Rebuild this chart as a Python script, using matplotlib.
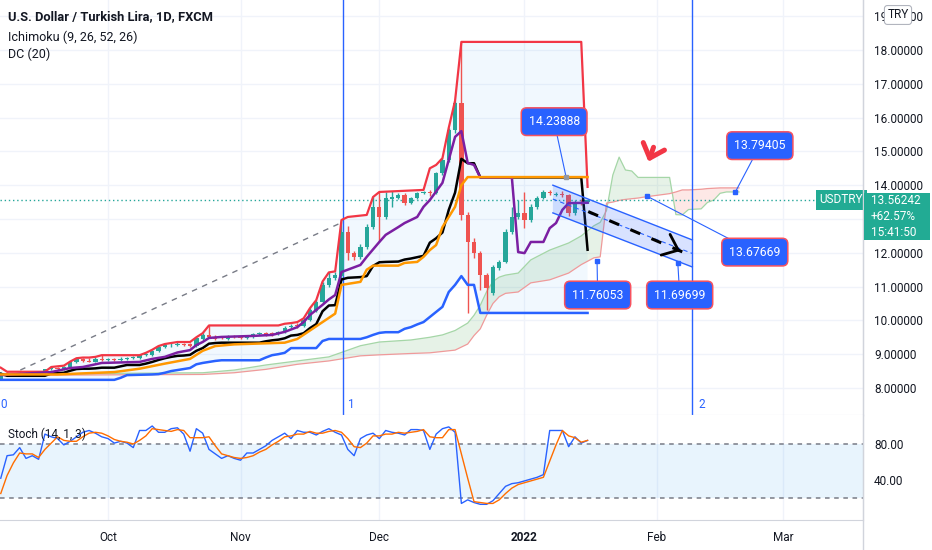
import numpy as np
import matplotlib
matplotlib.use("Agg")
import matplotlib.pyplot as plt
from matplotlib.patches import Polygon, Rectangle, ArrowStyle
from matplotlib.lines import Line2D

plt.rcParams['font.family'] = ['Roboto', 'DejaVu Sans']

# ---------------- data (bar index 0 = 1 Oct 2021, trading days) ----------------
first_bar = -17
opens = [8.26, 8.44, 8.40, 8.42, 8.40, 8.43, 8.41, 8.44, 8.55, 8.58, 8.55, 8.62, 8.76, 8.85, 8.81, 8.78, 8.86,
         8.84, 8.85, 8.82, 8.86, 8.90, 8.90, 8.97, 8.99, 9.10, 9.20,
         9.26, 9.28, 9.31, 9.29, 9.25, 9.45, 9.56, 9.52, 9.49, 9.46,
         9.52, 9.50, 9.48, 9.52, 9.60, 9.63, 9.62, 9.59, 9.66, 9.80,
         9.86, 9.84, 10.02, 10.28, 10.55, 11.05, 11.25, 11.30, 12.62, 11.99,
         11.88, 12.17, 12.76, 13.36, 13.06, 13.60, 13.62, 13.71, 13.47, 13.62,
         13.77, 13.80, 13.77, 14.36, 14.75, 15.63, 16.43, 13.12, 12.32, 11.99,
         11.34, 10.81, 11.55, 11.73, 12.62, 13.06, 13.18, 12.97, 13.36, 13.62,
         13.78, 13.72, 13.74, 13.71, 13.18, 13.47, 13.50]
highs = [8.46, 8.47, 8.45, 8.46, 8.46, 8.46, 8.47, 8.57, 8.62, 8.63, 8.65, 8.78, 8.88, 8.90, 8.88, 8.92, 8.97,
         8.90, 8.90, 8.91, 8.93, 8.96, 9.00, 9.04, 9.13, 9.24, 9.30,
         9.33, 9.36, 9.34, 9.33, 9.50, 9.62, 9.85, 9.56, 9.53, 9.57,
         9.56, 9.54, 9.55, 9.64, 9.66, 9.66, 9.65, 9.70, 9.82, 9.90,
         9.92, 10.06, 10.36, 10.60, 11.15, 11.42, 11.42, 12.97, 12.80, 12.05,
         12.25, 12.86, 13.65, 13.80, 13.80, 13.82, 13.78, 13.76, 13.66, 13.80,
         13.83, 13.86, 14.40, 14.80, 15.70, 16.50, 18.24, 13.20, 12.45, 12.05,
         11.40, 11.65, 11.80, 12.70, 13.36, 13.56, 13.80, 13.45, 13.68, 13.86,
         13.86, 13.80, 13.82, 13.75, 13.55, 13.58, 13.60]
lows = [8.24, 8.36, 8.37, 8.37, 8.38, 8.38, 8.39, 8.42, 8.52, 8.52, 8.53, 8.60, 8.74, 8.78, 8.76, 8.76, 8.80,
        8.80, 8.79, 8.80, 8.83, 8.86, 8.87, 8.94, 8.96, 9.07, 9.17,
        9.22, 9.24, 9.24, 9.22, 9.22, 9.42, 9.47, 9.42, 9.44, 9.43,
        9.47, 9.44, 9.45, 9.49, 9.57, 9.55, 9.54, 9.56, 9.63, 9.76,
        9.78, 9.80, 9.98, 10.24, 10.50, 11.00, 11.18, 11.10, 11.80, 11.80,
        11.82, 12.10, 12.70, 12.32, 13.00, 13.36, 13.58, 13.40, 13.44, 13.58,
        13.74, 13.68, 13.74, 14.30, 14.70, 15.55, 12.97, 10.22, 11.85, 10.90,
        10.31, 10.75, 11.50, 11.70, 12.55, 13.00, 12.73, 12.90, 13.30, 13.58,
        13.70, 13.68, 13.64, 13.10, 13.12, 13.40, 13.46]
closes = [8.44, 8.40, 8.42, 8.40, 8.43, 8.41, 8.44, 8.55, 8.58, 8.55, 8.62, 8.76, 8.85, 8.80, 8.78, 8.86, 8.84,
          8.85, 8.82, 8.86, 8.90, 8.90, 8.97, 8.99, 9.10, 9.20, 9.26,
          9.28, 9.31, 9.28, 9.25, 9.48, 9.58, 9.50, 9.46, 9.47, 9.53,
          9.50, 9.47, 9.51, 9.60, 9.61, 9.58, 9.57, 9.66, 9.78, 9.84,
          9.82, 10.02, 10.30, 10.55, 11.05, 11.25, 11.35, 12.62, 12.00, 11.88,
          12.17, 12.76, 13.36, 13.06, 13.62, 13.64, 13.71, 13.47, 13.62, 13.77,
          13.80, 13.77, 14.36, 14.75, 15.63, 16.43, 13.12, 12.32, 11.99, 11.34,
          10.96, 11.58, 11.73, 12.62, 13.06, 13.18, 12.97, 13.36, 13.62, 13.80,
          13.76, 13.75, 13.70, 13.18, 13.47, 13.44, 13.56]

# Donchian channel (20)
dc_upper_x = [-17, -16, -10, -9, -8, -7, -6, -5, -4, -3, -2, -1, 5, 6, 7, 8, 9, 10, 11, 13, 14, 15, 16, 27,
              28, 29, 30, 31, 32, 33, 34, 35, 36, 37, 38, 41, 42, 43, 50, 51, 52, 53, 54, 55, 56, 75, 76]
dc_upper_y = [8.60, 8.48, 8.48, 8.62, 8.64, 8.66, 8.78, 8.88, 8.90, 8.90, 8.92, 8.97, 8.97, 9.04, 9.13, 9.24,
              9.30, 9.33, 9.36, 9.36, 9.50, 9.62, 9.85, 9.85, 9.90, 9.92, 9.95, 10.06, 10.36, 10.60, 11.15,
              11.42, 11.45, 12.97, 13.06, 13.12, 13.65, 13.80, 13.86, 14.50, 14.60, 14.80, 15.70, 16.50,
              18.24, 18.24, 13.95]
dc_lower_x = [-17, 1, 2, 3, 7, 8, 9, 10, 11, 12, 13, 14, 15, 16, 17, 18, 24, 25, 26, 27, 28, 29, 33, 34, 35,
              40, 41, 42, 43, 44, 46, 47, 48, 49, 50, 51, 52, 53, 54, 55, 56, 57, 58, 59, 76]
dc_lower_y = [8.24, 8.24, 8.30, 8.38, 8.40, 8.41, 8.45, 8.50, 8.53, 8.56, 8.59, 8.70, 8.74, 8.77, 8.80, 8.82,
              8.82, 8.90, 8.97, 9.00, 9.04, 9.18, 9.18, 9.39, 9.45, 9.45, 9.50, 9.57, 9.63, 9.65, 9.65,
              9.75, 9.80, 9.88, 9.95, 10.10, 10.25, 10.40, 10.84, 11.05, 11.31, 11.05, 11.05, 10.22, 10.22]
dc_basis_x = [-17, -16, -10, -9, -8, -7, -6, -5, -4, -3, -2, -1, 1, 2, 3, 5, 6, 7, 8, 9, 10, 11, 12, 13,
              14, 15, 16, 17, 18, 24, 25, 26, 27, 28, 29, 30, 31, 32, 33, 34, 35, 36, 37, 38, 40, 41, 42,
              43, 44, 46, 47, 48, 49, 50, 51, 52, 53, 54, 55, 56, 57, 58, 59, 75, 76]
dc_basis_y = [8.42, 8.36, 8.36, 8.43, 8.44, 8.45, 8.51, 8.56, 8.57, 8.57, 8.58, 8.60, 8.60, 8.64, 8.68,
              8.68, 8.72, 8.77, 8.83, 8.88, 8.92, 8.95, 8.96, 8.98, 9.10, 9.18, 9.31, 9.33, 9.34, 9.34,
              9.38, 9.41, 9.43, 9.47, 9.55, 9.57, 9.62, 9.77, 9.89, 10.27, 10.44, 10.45, 11.21, 11.26,
              11.28, 11.31, 11.61, 11.72, 11.73, 11.74, 11.80, 11.83, 11.87, 11.91, 12.30, 12.43, 12.60,
              13.27, 13.78, 14.78, 14.65, 14.65, 14.23, 14.23, 12.09]

# Ichimoku (9, 26, 52, 26)
tenkan_x = [-17, -9, -6, -4, -1, 5, 7, 9, 11, 13, 14, 15, 16, 18, 23, 26, 28, 30, 31, 32, 33, 34, 35, 36,
            37, 40, 41, 43, 44, 46, 47, 49, 50, 51, 53, 54, 55, 56, 57, 58, 59, 64, 65, 66, 67, 69, 70,
            71, 72, 73, 76]
tenkan_y = [8.38, 8.47, 8.59, 8.62, 8.74, 8.77, 8.86, 8.92, 9.05, 9.12, 9.27, 9.36, 9.48, 9.51, 9.54,
            9.57, 9.66, 9.80, 9.95, 10.16, 10.31, 10.46, 10.62, 10.75, 11.43, 11.64, 11.88, 12.32, 12.53,
            12.76, 12.88, 13.06, 13.36, 13.56, 14.07, 14.75, 15.43, 15.60, 14.66, 14.60, 14.23, 14.23,
            12.02, 11.99, 12.32, 12.32, 12.73, 12.88, 13.27, 13.47, 13.48]
kijun_x = [-17, -8, 1, 5, 9, 13, 15, 17, 20, 28, 30, 32, 34, 36, 37, 40, 41, 42, 46, 47, 49, 50, 51, 52,
           53, 55, 56, 57, 76]
kijun_y = [8.40, 8.40, 8.47, 8.57, 8.72, 8.86, 9.10, 9.24, 9.29, 9.34, 9.45, 9.70, 9.95, 10.20, 11.05,
           11.14, 11.50, 11.62, 11.62, 11.70, 11.73, 11.88, 12.08, 12.23, 12.76, 13.36, 14.00, 14.24, 14.24]
span_x = [-17, -9, 15, 20, 25, 30, 35, 40, 43, 48, 51, 53, 55, 57, 58, 59, 60, 61, 62, 63, 65, 67, 70, 73,
          75, 76, 77, 78, 79, 80, 81, 82, 83, 84, 85, 89, 90, 91, 92, 94, 95, 96, 97, 98, 100]
span_a = [8.42, 8.42, 8.45, 8.53, 8.68, 8.80, 8.92, 9.25, 9.36, 9.42, 9.50, 9.57, 9.70, 9.92, 10.15, 10.45,
          10.85, 11.15, 11.28, 11.34, 11.40, 11.79, 12.08, 12.29, 12.50, 12.65, 12.80, 12.90, 13.25, 14.30,
          14.83, 14.45, 14.42, 14.23, 14.23, 14.23, 13.13, 13.12, 13.28, 13.30, 13.49, 13.56, 13.76, 13.80,
          13.80]
span_b = [8.38, 8.38, 8.40, 8.45, 8.55, 8.70, 8.80, 8.95, 8.98, 9.02, 9.04, 9.08, 9.12, 9.30, 9.55, 9.75,
          10.15, 10.50, 10.70, 10.80, 10.84, 11.11, 11.20, 11.40, 11.65, 11.75, 11.85, 11.88, 13.47, 13.50,
          13.55, 13.58, 13.60, 13.62, 13.65, 13.75, 13.80, 13.86, 13.86, 13.88, 13.90, 13.91, 13.92, 13.92,
          13.92]

# Stochastic (14, 1, 3)
stoch_k = [42, 67, 68, 76, 64, 67, 63, 91, 88, 86, 79, 83, 88, 93, 95, 92, 88,
           86, 81, 83, 81, 76, 95, 95, 100, 93, 93,
           97, 98, 91, 72, 97, 92, 74, 69, 64, 67,
           64, 62, 70, 70, 74, 78, 84, 88, 92, 86,
           95, 93, 93, 90, 94, 97, 93, 90, 74, 67,
           86, 90, 92, 86, 95, 93, 92, 90, 96, 96,
           95, 74, 91, 97, 99, 93, 14, 18, 15, 13,
           13, 17, 25, 33, 36, 37, 39, 41, 43, 46,
           95, 95, 95, 77, 88, 81, 84]
stoch_d = [25, 45, 59, 70, 69, 69, 65, 74, 81, 88, 84, 83, 83, 88, 92, 93, 92,
           89, 85, 83, 82, 80, 84, 89, 97, 96, 95,
           94, 96, 95, 87, 87, 87, 88, 78, 69, 67,
           65, 64, 65, 67, 71, 74, 79, 83, 88, 89,
           91, 91, 94, 92, 92, 94, 95, 93, 86, 77,
           76, 81, 89, 89, 91, 91, 93, 92, 93, 94,
           96, 88, 87, 87, 96, 96, 69, 42, 16, 15,
           14, 14, 18, 25, 31, 35, 37, 39, 41, 43,
           61, 79, 95, 89, 87, 82, 84]

# axis ticks / labels
month_ticks = [0, 21, 43, 66, 87, 107]
month_labels = ['Oct', 'Nov', 'Dec', '2022', 'Feb', 'Mar']
price_ticks = [8, 9, 10, 11, 12, 13, 14, 15, 16, 17, 18, 19]
hidden_price_ticks = [13]          # covered by the last-price box on the scale
stoch_ticks = [40, 80]
last_price = 13.56242
change_text = '+62.57%'
countdown_text = '15:41:50'

# drawings
vline_bars = [37.2, 92.6]
vline_names = ['1', '2']
trend_bars = [-13.9, 37.2]
trend_prices = [8.53, 12.91]
channel_bars = [70.5, 92.6]
channel_top = [14.00, 12.38]
channel_bottom = [13.18, 11.58]
arrow_bars = [76.1, 91.1]
arrow_prices = [13.22, 12.02]
red_arrow_bars = [86.6, 85.5]
red_arrow_prices = [15.20, 14.62]
label_prices = [14.23888, 13.79405, 13.67669, 11.76053, 11.69699]
label_anchor_bar = [72.6, 99.4, 85.4, 77.5, 90.3]
label_box_bar = [70.7, 103.3, 102.5, 77.6, 90.6]
label_box_price = [15.88, 15.17, 12.02, 10.75, 10.75]

# ---------------- figure ----------------
W, H = 932, 550
fig = plt.figure(figsize=(W / 100, H / 100), dpi=100)
fig.patch.set_facecolor('white')
axm = fig.add_axes([0, 1 - 415 / H, 863 / W, 415 / H])
axs = fig.add_axes([0, 1 - 520 / H, 863 / W, 105 / H], sharex=axm)

UP, DOWN = '#26A69A', '#EF5350'
GRID = '#F0F3FA'
SEP = '#D1D4DC'
TXT = '#131722'

bars = np.arange(first_bar, first_bar + len(opens))
o = np.array(opens); h = np.array(highs); l = np.array(lows); c = np.array(closes)
up = c >= o

# Donchian fill
poly = list(zip(dc_upper_x, dc_upper_y)) + list(zip(dc_lower_x[::-1], dc_lower_y[::-1]))
axm.add_patch(Polygon(poly, closed=True, fc='#2196F3', alpha=0.06, ec='none', zorder=1))

# Ichimoku cloud
sa = np.array(span_a); sb = np.array(span_b)
axm.fill_between(span_x, sa, sb, where=sa >= sb, interpolate=True, color='#43A047', alpha=0.13, lw=0, zorder=1.2)
axm.fill_between(span_x, sa, sb, where=sa < sb, interpolate=True, color='#F44336', alpha=0.12, lw=0, zorder=1.2)
axm.plot(span_x, span_a, color='#A5D6A7', lw=0.9, zorder=1.5)
axm.plot(span_x, span_b, color='#EF9A9A', lw=0.9, zorder=1.5)

# trend line
axm.plot(trend_bars, trend_prices, color='#787B86', lw=1, ls=(0, (4, 4)), zorder=2)

# vertical lines
for vb, nm in zip(vline_bars, vline_names):
    axm.axvline(vb, color='#2962FF', lw=1, zorder=2.5)
    axm.text(vb + 0.9, 7.5, nm, color='#2962FF', fontsize=8.5, va='center', ha='left', zorder=2.5)
axm.text(0.0, 7.5, '0', transform=axm.get_yaxis_transform(), color='#2962FF', fontsize=8.5,
         va='center', ha='left', zorder=2.5)

# candles
colors = np.where(up, UP, DOWN)
body_bottom = np.minimum(o, c)
body_h = np.maximum(np.abs(c - o), 0.025)
axm.vlines(bars, l, h, colors=colors, lw=1, zorder=3)
axm.bar(bars, body_h, bottom=body_bottom, width=0.68, color=colors, lw=0, zorder=3.1)

# Donchian lines
axm.plot(dc_upper_x, dc_upper_y, color='#F23645', lw=1.6, zorder=4)
axm.plot(dc_lower_x, dc_lower_y, color='#2962FF', lw=1.8, zorder=4)
axm.plot(dc_basis_x, dc_basis_y, color='#000000', lw=1.8, zorder=4)
# Ichimoku lines
axm.plot(tenkan_x, tenkan_y, color='#7B1FA2', lw=1.8, zorder=5)
axm.plot(kijun_x, kijun_y, color='#FF9800', lw=1.8, zorder=5.1)

# last price line
axm.axhline(last_price, color='#26A69A', lw=1, ls=(0, (1, 2)), zorder=2)

# parallel channel
ch = [(channel_bars[0], channel_top[0]), (channel_bars[1], channel_top[1]),
      (channel_bars[1], channel_bottom[1]), (channel_bars[0], channel_bottom[0])]
axm.add_patch(Polygon(ch, closed=True, fc='#2962FF', alpha=0.18, ec='none', zorder=6))
axm.plot(channel_bars, channel_top, color='#2962FF', lw=1, zorder=6.1)
axm.plot(channel_bars, channel_bottom, color='#2962FF', lw=1, zorder=6.1)
axm.plot(channel_bars, [(a + b) / 2 for a, b in zip(channel_top, channel_bottom)],
         color='#2962FF', lw=0.8, ls=(0, (4, 3)), zorder=6.1)

# dashed black arrow
axm.plot(arrow_bars, arrow_prices, color='black', lw=2.2, ls=(0, (3.5, 4)), zorder=6.5)
axm.annotate('', xy=(arrow_bars[1], arrow_prices[1]),
             xytext=(arrow_bars[1] - 1.0, arrow_prices[1] + 0.08),
             arrowprops=dict(arrowstyle=ArrowStyle('->', head_length=0.55, head_width=0.45),
                             color='black', lw=2.0, mutation_scale=18), zorder=6.5)

# red arrow
axm.annotate('', xy=(red_arrow_bars[1], red_arrow_prices[1]),
             xytext=(red_arrow_bars[0], red_arrow_prices[0]),
             arrowprops=dict(arrowstyle=ArrowStyle('->', head_length=0.5, head_width=0.45),
                             color='#F23645', lw=3.6, mutation_scale=18,
                             capstyle='round', joinstyle='round'), zorder=7)

# price labels
for k, (pv, ab, bb, bp) in enumerate(zip(label_prices, label_anchor_bar, label_box_bar, label_box_price)):
    axm.plot([ab, bb], [pv, bp], color='#2962FF', lw=0.8, zorder=8)
    axm.plot([ab], [pv], marker='s', ms=3.2, color='#9598A1' if k == 0 else '#2962FF', zorder=8.5)
    axm.text(bb, bp, f'{pv:.5f}', ha='center', va='center', color='white', fontsize=8.8, zorder=9,
             bbox=dict(boxstyle='round,pad=0.6,rounding_size=0.45', fc='#2962FF', ec='#F7525F', lw=1.1))

# USDTRY label
axm.text(1.0, last_price, 'USDTRY', transform=axm.get_yaxis_transform(), ha='right', va='center',
         color='white', fontsize=8.5, zorder=9,
         bbox=dict(boxstyle='square,pad=0.32', fc='#22AB94', ec='none'))

axm.set_xlim(-17.12, 119.65)
axm.set_ylim(7.20, 19.48)
axm.set_yticks(price_ticks)
axm.set_yticklabels(['' if v in hidden_price_ticks else f'{v:.5f}' for v in price_ticks])
axm.yaxis.tick_right()
axm.tick_params(axis='y', length=0, pad=8, labelsize=8.5, labelcolor=TXT)
axm.tick_params(axis='x', length=0, labelbottom=False)
axm.set_xticks(month_ticks)
axm.grid(True, color=GRID, lw=1, zorder=0)
axm.set_axisbelow(True)
for s in ['top', 'left']:
    axm.spines[s].set_visible(False)
axm.spines['right'].set_color(SEP)
axm.spines['bottom'].set_color(SEP)

# ---------------- stochastic panel ----------------
axs.axhspan(20, 80, color='#2196F3', alpha=0.1, lw=0, zorder=1)
axs.axhline(80, color='#787B86', lw=1.1, ls=(0, (3, 3)), zorder=2)
axs.axhline(20, color='#787B86', lw=1.1, ls=(0, (3, 3)), zorder=2)
axs.plot(bars, stoch_k, color='#2962FF', lw=1, zorder=3)
axs.plot(bars, stoch_d, color='#FF6D00', lw=1, zorder=3.1)
axs.set_ylim(-4.4, 112.2)
axs.set_yticks(stoch_ticks)
axs.set_yticklabels([f'{v:.2f}' for v in stoch_ticks])
axs.yaxis.tick_right()
axs.tick_params(axis='y', length=0, pad=8, labelsize=8.5, labelcolor=TXT)
axs.set_xticks(month_ticks)
axs.set_xticklabels(month_labels)
axs.tick_params(axis='x', length=0, pad=8, labelsize=8.5, labelcolor=TXT)
axs.get_xticklabels()[3].set_fontweight('bold')
axs.grid(True, axis='x', color=GRID, lw=1, zorder=0)
axs.set_axisbelow(True)
for s in ['top', 'left']:
    axs.spines[s].set_visible(False)
axs.spines['right'].set_color(SEP)
axs.spines['bottom'].set_color(SEP)

# ---------------- figure-level texts ----------------
fig.add_artist(Line2D([863 / W, 863 / W], [0, 1], color=SEP, lw=1))
fig.text(8 / W, 1 - 17 / H, 'U.S. Dollar / Turkish Lira, 1D, FXCM', fontsize=9.3, fontweight='bold',
         color=TXT, va='center', ha='left')
fig.text(8 / W, 1 - 37 / H, 'Ichimoku (9, 26, 52, 26)', fontsize=9, color=TXT, va='center', ha='left')
fig.text(8 / W, 1 - 54 / H, 'DC (20)', fontsize=9, color=TXT, va='center', ha='left')
fig.text(8 / W, 1 - 434 / H, 'Stoch (14, 1, 3)', fontsize=8.5, color=TXT, va='center', ha='left')

# TRY currency badge
fig.text(898 / W, 1 - 15 / H, 'TRY', fontsize=8.5, color=TXT, va='center', ha='center', zorder=5,
         bbox=dict(boxstyle='round,pad=0.25', fc='white', ec='#B2B5BE', lw=0.8))

# last price box on axis
fig.add_artist(Rectangle((864 / W, 1 - 240 / H), 66 / W, 47 / H, transform=fig.transFigure,
                         fc='#22AB94', ec='none', zorder=4))
for yy, tt in zip([201, 217, 232], [f'{last_price:.5f}', change_text, countdown_text]):
    fig.text(871 / W, 1 - yy / H, tt, fontsize=8.5, color='white', va='center', ha='left', zorder=5)

fig.savefig('out.png', dpi=100, facecolor='white')
